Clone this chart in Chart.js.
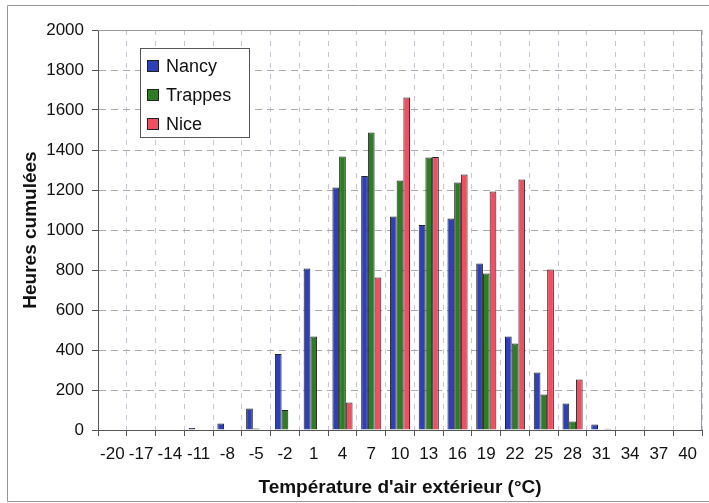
<!DOCTYPE html>
<html>
<head>
<meta charset="utf-8">
<script src="https://cdn.jsdelivr.net/npm/chart.js@4"></script>
<style>
  html, body { margin: 0; padding: 0; background: #fff; }
  #wrap { width: 709px; height: 503px; position: relative; }
</style>
</head>
<body>
<div id="wrap"><canvas id="chart" width="709" height="503"></canvas></div>
<script>
const temps = ['-20','-17','-14','-11','-8','-5','-2','1','4','7','10','13','16','19','22','25','28','31','34','37','40'];
const nancy   = [0, 0, 0, 10, 32, 107, 380, 808, 1212, 1270, 1068, 1025, 1057, 832, 467, 287, 133, 28, 3, 0, 0];
const trappes = [0, 0, 0, 0, 0, 8, 100, 467, 1367, 1488, 1247, 1362, 1237, 783, 433, 178, 42, 4, 0, 0, 0];
const nice    = [0, 0, 0, 0, 0, 0, 0, 0, 137, 762, 1662, 1365, 1278, 1192, 1253, 803, 253, 6, 0, 0, 0];
const yMax = 2000;
const yStep = 200;

const FONT = '"Liberation Sans", Arial, sans-serif';

// white page with the thin outer frame
const framePlugin = {
  id: 'frame',
  beforeDraw(c) {
    const ctx = c.ctx;
    ctx.save();
    ctx.fillStyle = '#fff';
    ctx.fillRect(0, 0, c.width, c.height);
    ctx.strokeStyle = '#9a92a2';
    ctx.lineWidth = 1;
    ctx.beginPath();
    ctx.moveTo(709, 5.5); ctx.lineTo(7.5, 5.5); ctx.lineTo(7.5, 501.5); ctx.lineTo(709, 501.5);
    ctx.stroke();
    ctx.restore();
  },
  beforeDatasetsDraw(c) {
    const a = c.chartArea, ctx = c.ctx;
    ctx.save();
    ctx.strokeStyle = '#9a9a9a';
    ctx.lineWidth = 1;
    ctx.beginPath();
    ctx.moveTo(a.left, a.top + 0.5); ctx.lineTo(a.right - 0.5, a.top + 0.5); ctx.lineTo(a.right - 0.5, a.bottom);
    ctx.stroke();
    ctx.restore();
  }
};

// legend box inside the plot, like the original
const boxLegend = {
  id: 'boxLegend',
  afterDraw(c) {
    const ctx = c.ctx;
    ctx.save();
    ctx.fillStyle = '#fff';
    ctx.strokeStyle = '#555';
    ctx.lineWidth = 1;
    ctx.fillRect(140, 48, 109, 89);
    ctx.strokeRect(140.5, 48.5, 109, 89);
    ctx.font = '18px ' + FONT;
    ctx.textBaseline = 'middle';
    c.data.datasets.forEach((ds, i) => {
      const y = 66 + i * 29;
      ctx.fillStyle = ds.backgroundColor;
      ctx.fillRect(147, y - 6, 12, 12);
      ctx.strokeStyle = '#222';
      ctx.strokeRect(147.5, y - 5.5, 11, 11);
      ctx.fillStyle = '#111';
      ctx.fillText(ds.label, 166, y + 1);
    });
    ctx.restore();
  }
};

new Chart(document.getElementById('chart'), {
  type: 'bar',
  data: {
    labels: temps,
    datasets: [
      { label: 'Nancy', data: nancy, backgroundColor: '#2f3fb5' },
      { label: 'Trappes', data: trappes, backgroundColor: '#2e7d24' },
      { label: 'Nice', data: nice, backgroundColor: '#f04e62' }
    ]
  },
  options: {
    responsive: false,
    animation: false,
    layout: { padding: { top: 30, right: 7, left: 0, bottom: 0 } },
    datasets: {
      bar: { borderColor: '#222', borderWidth: 1, categoryPercentage: 0.7, barPercentage: 1 }
    },
    plugins: { legend: { display: false }, tooltip: { enabled: false } },
    scales: {
      x: {
        grid: { offset: true, color: '#cdc3d2', tickBorderDash: [], tickColor: '#555', tickLength: 6 },
        border: { color: '#555', width: 1, dash: [5, 6] },
        ticks: { font: { family: FONT, size: 17 }, color: '#111', padding: 8, maxRotation: 0, autoSkip: false },
        title: { display: true, text: "Température d'air extérieur (°C)", color: '#111',
                 font: { family: FONT, size: 19, weight: 'bold' }, padding: { top: 0, bottom: 4 } },
        afterFit: s => { s.height = 73; }
      },
      y: {
        min: 0, max: yMax,
        grid: { color: '#ababab', tickBorderDash: [], tickColor: '#555', tickLength: 6 },
        border: { color: '#555', width: 1, dash: [7, 5] },
        ticks: { stepSize: yStep, font: { family: FONT, size: 17 }, color: '#111', padding: 8,
                 callback: v => String(v) },
        title: { display: true, text: 'Heures cumulées', color: '#111',
                 font: { family: FONT, size: 19, weight: 'bold' }, padding: { top: 19, bottom: 0 } },
        afterFit: s => { s.width = 98; }
      }
    }
  },
  plugins: [framePlugin, boxLegend]
});
</script>
</body>
</html>
